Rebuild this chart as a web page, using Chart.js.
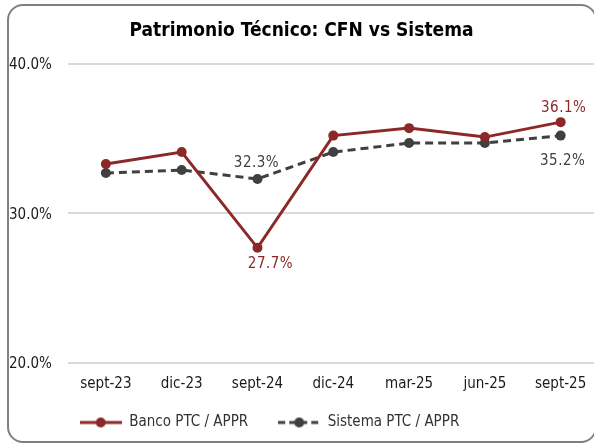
<!DOCTYPE html>
<html>
<head>
<meta charset="utf-8">
<script src="https://cdn.jsdelivr.net/npm/chart.js@4.4.0/dist/chart.umd.min.js"></script>
<style>
html, body { margin: 0; padding: 0; background: #fff; overflow: hidden; }
#wrap { position: relative; width: 594px; height: 445px; overflow: hidden; }
#marco { position: absolute; left: 7px; top: 4px; width: 590px; height: 439px; box-sizing: border-box; border: 2px solid #808080; border-radius: 16px; }
canvas { position: absolute; left: 0; top: 0; }
</style>
</head>
<body>
<div id="wrap">
  <div id="marco"></div>
  <canvas id="grafico" width="594" height="445"></canvas>
</div>
<script>
// datos
const categorias = ['sept-23', 'dic-23', 'sept-24', 'dic-24', 'mar-25', 'jun-25', 'sept-25'];
const bancoPTC = [33.3, 34.1, 27.7, 35.2, 35.7, 35.1, 36.1];
const sistemaPTC = [32.7, 32.9, 32.3, 34.1, 34.7, 34.7, 35.2];
const marcasY = [20, 30, 40];

const FUENTE = "'DejaVu Sans Condensed', 'DejaVu Sans', sans-serif";
const ROJO = '#8c2828';
const GRIS = '#404040';

// etiquetas de valor que muestra el original (serie, punto, desplazamiento)
const etiquetas = [
    { ds: 0, i: 2, dx: 13, dy: 16 },
    { ds: 0, i: 6, dx: 3, dy: -14 },
    { ds: 1, i: 2, dx: -1, dy: -16 },
    { ds: 1, i: 6, dx: 2, dy: 26 }
];

function muestraLeyenda(color, dash) {
    const c = document.createElement('canvas');
    c.width = 42;
    c.height = 14;
    const g = c.getContext('2d');
    g.strokeStyle = color;
    g.lineWidth = 3;
    g.setLineDash(dash);
    g.beginPath();
    g.moveTo(0, 7);
    g.lineTo(42, 7);
    g.stroke();
    g.setLineDash([]);
    g.fillStyle = color;
    g.beginPath();
    g.arc(21, 7, 5, 0, Math.PI * 2);
    g.fill();
    return c;
}

const pluginEtiquetas = {
    id: 'etiquetas',
    afterDatasetsDraw(chart) {
        const ctx = chart.ctx;
        ctx.save();
        ctx.textAlign = 'center';
        ctx.textBaseline = 'middle';
        if ('letterSpacing' in ctx) ctx.letterSpacing = '0.5px';
        etiquetas.forEach(e => {
            const ds = chart.data.datasets[e.ds];
            const pt = chart.getDatasetMeta(e.ds).data[e.i];
            ctx.fillStyle = ds.borderColor;
            ctx.font = '15px ' + FUENTE;
            ctx.fillText(ds.data[e.i].y.toFixed(1) + '%', pt.x + e.dx, pt.y + e.dy);
        });
        ctx.restore();
    }
};

// la leyenda del original no esta centrada
const pluginLeyenda = {
    id: 'moverLeyenda',
    afterLayout(chart) {
        const l = chart.legend;
        l.left -= 32;
        l.right -= 32;
        l.top -= 9;
        l.bottom -= 9;
    }
};

const ctx = document.getElementById('grafico').getContext('2d');
new Chart(ctx, {
    type: 'line',
    data: {
        datasets: [{
            label: 'Banco PTC / APPR',
            data: bancoPTC.map((v, i) => ({ x: i, y: v })),
            borderColor: ROJO,
            backgroundColor: ROJO,
            borderWidth: 3,
            pointRadius: 5,
            pointBorderWidth: 0,
            tension: 0
        }, {
            label: 'Sistema PTC / APPR',
            data: sistemaPTC.map((v, i) => ({ x: i, y: v })),
            borderColor: GRIS,
            backgroundColor: GRIS,
            borderWidth: 3,
            borderDash: [8, 5],
            pointRadius: 5,
            pointBorderWidth: 0,
            tension: 0
        }]
    },
    options: {
        responsive: false,
        animation: false,
        layout: { autoPadding: false, padding: { left: 9, right: 0, top: 0, bottom: -4 } },
        scales: {
            x: {
                type: 'linear',
                min: -0.5,
                max: 6.44,
                afterBuildTicks: s => { s.ticks = categorias.map((c, i) => ({ value: i })); },
                afterFit: s => { s.height = 31; },
                grid: { display: false, drawTicks: false },
                border: { display: false },
                ticks: {
                    padding: 0,
                    color: '#1a1a1a',
                    maxRotation: 0,
                    autoSkip: false,
                    font: { family: FUENTE, size: 15, lineHeight: 2.8 },
                    callback: v => categorias[v]
                }
            },
            y: {
                min: 20,
                max: 40,
                afterBuildTicks: s => { s.ticks = marcasY.map(v => ({ value: v })); },
                afterFit: s => { s.width = 59; },
                grid: { color: '#d9d9d9', lineWidth: 2, drawTicks: false },
                border: { display: false },
                ticks: {
                    crossAlign: 'far',
                    labelOffset: 1.5,
                    color: '#1a1a1a',
                    font: { family: FUENTE, size: 15 },
                    callback: v => v.toFixed(1) + '%'
                }
            }
        },
        plugins: {
            title: {
                display: true,
                text: 'Patrimonio Técnico: CFN vs Sistema',
                color: '#000',
                font: { family: FUENTE, size: 19, weight: 'bold' },
                padding: { top: 20, bottom: 21 }
            },
            legend: {
                position: 'bottom',
                labels: {
                    usePointStyle: true,
                    pointStyleWidth: 42,
                    padding: 30,
                    color: '#333',
                    font: { family: FUENTE, size: 15 },
                    generateLabels: chart => chart.data.datasets.map((ds, i) => ({
                        text: ds.label,
                        pointStyle: muestraLeyenda(ds.borderColor, i === 1 ? [7, 4] : []),
                        fillStyle: 'transparent',
                        strokeStyle: 'transparent',
                        lineWidth: 0,
                        fontColor: '#333',
                        hidden: false,
                        datasetIndex: i
                    }))
                }
            },
            tooltip: { enabled: false }
        }
    },
    plugins: [pluginEtiquetas, pluginLeyenda]
});
</script>
</body>
</html>
